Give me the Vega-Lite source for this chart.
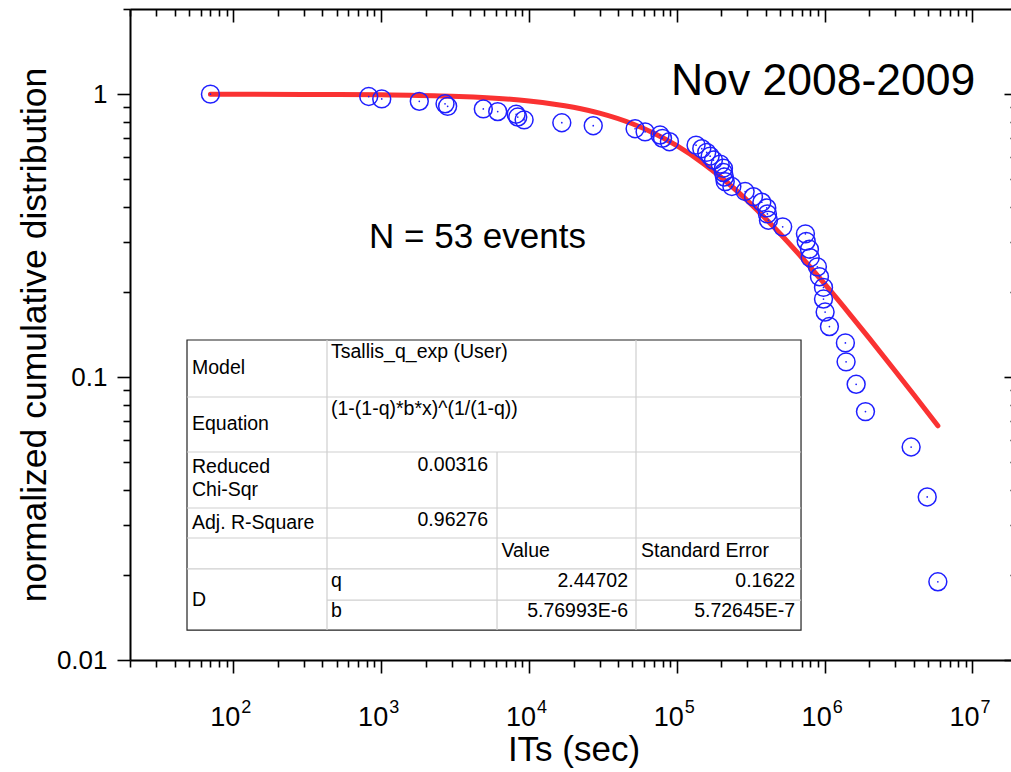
{
  "$schema": "https://vega.github.io/schema/vega-lite/v6.json",
  "width": 887,
  "height": 651,
  "autosize": {"type": "none"},
  "padding": {"left": 130, "top": 9, "right": -6, "bottom": 112},
  "background": "white",
  "config": {
    "view": {"stroke": null},
    "font": "Liberation Sans",
    "axis": {
      "grid": false,
      "domainColor": "black",
      "domainWidth": 2,
      "tickColor": "black",
      "tickWidth": 1.6,
      "labelColor": "black",
      "titleColor": "black",
      "labelFont": "Liberation Sans",
      "titleFont": "Liberation Sans",
      "titleFontWeight": "normal",
      "labelOverlap": false,
      "labelFlush": false,
      "labelBound": false
    }
  },
  "datasets": {
    "points": [
      {"x": 70, "y": 1.0}, {"x": 824, "y": 0.9811}, {"x": 1009, "y": 0.9623}, {"x": 1811, "y": 0.9434},
      {"x": 2704, "y": 0.9245}, {"x": 2816, "y": 0.9057}, {"x": 4909, "y": 0.8868}, {"x": 6143, "y": 0.8679},
      {"x": 8187, "y": 0.8491}, {"x": 8395, "y": 0.8302}, {"x": 9268, "y": 0.8113}, {"x": 16670, "y": 0.7925},
      {"x": 27200, "y": 0.7736}, {"x": 52200, "y": 0.7547}, {"x": 61000, "y": 0.7358}, {"x": 77000, "y": 0.717},
      {"x": 80000, "y": 0.6981}, {"x": 89100, "y": 0.6792}, {"x": 134900, "y": 0.6604}, {"x": 147500, "y": 0.6415},
      {"x": 159300, "y": 0.6226}, {"x": 168000, "y": 0.6038}, {"x": 177000, "y": 0.5849}, {"x": 196400, "y": 0.566},
      {"x": 206700, "y": 0.5472}, {"x": 206700, "y": 0.5283}, {"x": 210000, "y": 0.5094}, {"x": 212500, "y": 0.4906},
      {"x": 235600, "y": 0.4717}, {"x": 289700, "y": 0.4528}, {"x": 330000, "y": 0.434}, {"x": 375700, "y": 0.4151},
      {"x": 406000, "y": 0.3962}, {"x": 410000, "y": 0.3774}, {"x": 416600, "y": 0.3585}, {"x": 520000, "y": 0.3396},
      {"x": 741000, "y": 0.3208}, {"x": 750000, "y": 0.3019}, {"x": 789000, "y": 0.283}, {"x": 798000, "y": 0.2642},
      {"x": 893000, "y": 0.2453}, {"x": 922000, "y": 0.2264}, {"x": 982000, "y": 0.2075}, {"x": 982000, "y": 0.1887},
      {"x": 1007000, "y": 0.1698}, {"x": 1077000, "y": 0.1509}, {"x": 1381000, "y": 0.1321}, {"x": 1396000, "y": 0.1132},
      {"x": 1633000, "y": 0.0943}, {"x": 1888000, "y": 0.0755}, {"x": 3845000, "y": 0.0566}, {"x": 4940000, "y": 0.0377},
      {"x": 5830000, "y": 0.0189}
    ],
    "fit": [
      {"x": 70, "y": 0.9996}, {"x": 300, "y": 0.99827}, {"x": 1000, "y": 0.99427}, {"x": 3000, "y": 0.98305},
      {"x": 10000, "y": 0.94609}, {"x": 20000, "y": 0.89878}, {"x": 30000, "y": 0.85687}, {"x": 50000, "y": 0.78579},
      {"x": 70000, "y": 0.72758}, {"x": 100000, "y": 0.65738}, {"x": 150000, "y": 0.57054}, {"x": 200000, "y": 0.50731},
      {"x": 300000, "y": 0.42033}, {"x": 500000, "y": 0.32111}, {"x": 700000, "y": 0.2647}, {"x": 1000000, "y": 0.21336},
      {"x": 1500000, "y": 0.1653}, {"x": 2000000, "y": 0.13728}, {"x": 3000000, "y": 0.10511}, {"x": 4000000, "y": 0.08673},
      {"x": 5830000, "y": 0.06727}
    ],
    "xLabels": [
      {"x": 100, "y": 0.01, "base": "10", "exp": "2"},
      {"x": 1000, "y": 0.01, "base": "10", "exp": "3"},
      {"x": 10000, "y": 0.01, "base": "10", "exp": "4"},
      {"x": 100000, "y": 0.01, "base": "10", "exp": "5"},
      {"x": 1000000, "y": 0.01, "base": "10", "exp": "6"},
      {"x": 10000000, "y": 0.01, "base": "10", "exp": "7"}
    ],
    "tableBox": [{"x": 48.6, "x2": 692000, "y": 0.13521, "y2": 0.01276}],
    "tableLines": [
      {"x": 48.6, "x2": 692000, "y": 0.08502, "y2": 0.08502},
      {"x": 48.6, "x2": 692000, "y": 0.05434, "y2": 0.05434},
      {"x": 48.6, "x2": 692000, "y": 0.03445, "y2": 0.03445},
      {"x": 48.6, "x2": 692000, "y": 0.02699, "y2": 0.02699},
      {"x": 48.6, "x2": 692000, "y": 0.02098, "y2": 0.02098},
      {"x": 430.2, "x2": 692000, "y": 0.01629, "y2": 0.01629},
      {"x": 430.2, "x2": 430.2, "y": 0.13521, "y2": 0.01276},
      {"x": 6077, "x2": 6077, "y": 0.05434, "y2": 0.01276},
      {"x": 52950, "x2": 52950, "y": 0.13521, "y2": 0.01276}
    ],
    "tableLeft": [
      {"x": 52.5, "y": 0.1077, "t": "Model"},
      {"x": 457.9, "y": 0.1227, "t": "Tsallis_q_exp (User)"},
      {"x": 52.5, "y": 0.0683, "t": "Equation"},
      {"x": 457.9, "y": 0.0771, "t": "(1-(1-q)*b*x)^(1/(1-q))"},
      {"x": 52.5, "y": 0.0481, "t": "Reduced"},
      {"x": 52.5, "y": 0.0399, "t": "Chi-Sqr"},
      {"x": 52.5, "y": 0.0305, "t": "Adj. R-Square"},
      {"x": 6510, "y": 0.02428, "t": "Value"},
      {"x": 57250, "y": 0.02428, "t": "Standard Error"},
      {"x": 52.5, "y": 0.01629, "t": "D"},
      {"x": 457.9, "y": 0.019, "t": "q"},
      {"x": 457.9, "y": 0.0149, "t": "b"}
    ],
    "tableRight": [
      {"x": 5282, "y": 0.0489, "t": "0.00316"},
      {"x": 5282, "y": 0.03125, "t": "0.96276"},
      {"x": 46740, "y": 0.019, "t": "2.44702"},
      {"x": 630000, "y": 0.019, "t": "0.1622"},
      {"x": 46740, "y": 0.0149, "t": "5.76993E-6"},
      {"x": 630000, "y": 0.0149, "t": "5.72645E-7"}
    ],
    "bigTitle": [{"x": 91340, "y": 0.9932, "t": "Nov 2008-2009"}],
    "nText": [{"x": 827.7, "y": 0.286, "t": "N = 53 events"}]
  },
  "resolve": {"axis": {"x": "independent", "y": "independent"}},
  "layer": [
    {
      "data": {"name": "tableBox"},
      "mark": {"type": "rect", "fill": "white", "stroke": "#222222", "strokeWidth": 1.2},
      "encoding": {
        "x": {"field": "x", "type": "quantitative", "scale": {"type": "log", "domain": [20, 20000000], "nice": false}, "axis": null},
        "x2": {"field": "x2"},
        "y": {"field": "y", "type": "quantitative", "scale": {"type": "log", "domain": [0.01, 2], "nice": false}, "axis": null},
        "y2": {"field": "y2"}
      }
    },
    {
      "data": {"name": "tableLines"},
      "mark": {"type": "rule", "color": "#cfcfcf", "strokeWidth": 1.2},
      "encoding": {
        "x": {"field": "x", "type": "quantitative", "scale": {"type": "log", "domain": [20, 20000000], "nice": false}, "axis": null},
        "x2": {"field": "x2"},
        "y": {"field": "y", "type": "quantitative", "scale": {"type": "log", "domain": [0.01, 2], "nice": false}, "axis": null},
        "y2": {"field": "y2"}
      }
    },
    {
      "data": {"name": "tableLeft"},
      "mark": {"type": "text", "align": "left", "baseline": "middle", "fontSize": 19.5, "font": "Liberation Sans", "color": "black"},
      "encoding": {
        "x": {"field": "x", "type": "quantitative", "scale": {"type": "log", "domain": [20, 20000000], "nice": false}, "axis": null},
        "y": {"field": "y", "type": "quantitative", "scale": {"type": "log", "domain": [0.01, 2], "nice": false}, "axis": null},
        "text": {"field": "t"}
      }
    },
    {
      "data": {"name": "tableRight"},
      "mark": {"type": "text", "align": "right", "baseline": "middle", "fontSize": 19.5, "font": "Liberation Sans", "color": "black"},
      "encoding": {
        "x": {"field": "x", "type": "quantitative", "scale": {"type": "log", "domain": [20, 20000000], "nice": false}, "axis": null},
        "y": {"field": "y", "type": "quantitative", "scale": {"type": "log", "domain": [0.01, 2], "nice": false}, "axis": null},
        "text": {"field": "t"}
      }
    },
    {
      "data": {"name": "fit"},
      "mark": {"type": "line", "color": "#fa3232", "strokeWidth": 5, "strokeCap": "round", "interpolate": "monotone"},
      "encoding": {
        "x": {"field": "x", "type": "quantitative", "scale": {"type": "log", "domain": [20, 20000000], "nice": false},
          "axis": {
            "orient": "bottom",
            "values": [20,30,40,50,60,70,80,90,100,200,300,400,500,600,700,800,900,1000,2000,3000,4000,5000,6000,7000,8000,9000,10000,20000,30000,40000,50000,60000,70000,80000,90000,100000,200000,300000,400000,500000,600000,700000,800000,900000,1000000,2000000,3000000,4000000,5000000,6000000,7000000,8000000,9000000,10000000,20000000],
            "labels": false,
            "tickSize": {"condition": {"test": "datum.value == 100 || datum.value == 1000 || datum.value == 10000 || datum.value == 100000 || datum.value == 1000000 || datum.value == 10000000", "value": 13}, "value": 7},
            "title": "ITs (sec)",
            "titleFontSize": 35,
            "titlePadding": 59
          }
        },
        "y": {"field": "y", "type": "quantitative", "scale": {"type": "log", "domain": [0.01, 2], "nice": false},
          "axis": {
            "orient": "left",
            "values": [0.01,0.02,0.03,0.04,0.05,0.06,0.07,0.08,0.09,0.1,0.2,0.3,0.4,0.5,0.6,0.7,0.8,0.9,1,2],
            "labelExpr": "datum.value == 1 ? '1' : datum.value == 0.1 ? '0.1' : datum.value == 0.01 ? '0.01' : ''",
            "tickSize": {"condition": {"test": "datum.value == 1 || datum.value == 0.1 || datum.value == 0.01", "value": 13}, "value": 7},
            "labelFontSize": 26,
            "labelPadding": 10,
            "title": "normalized cumulative distribution",
            "titleFontSize": 35.5,
            "titlePadding": 4
          }
        }
      }
    },
    {
      "data": {"name": "points"},
      "mark": {"type": "point", "shape": "circle", "filled": false, "stroke": "#1f1fff", "strokeWidth": 1.5, "size": 320, "opacity": 1},
      "encoding": {
        "x": {"field": "x", "type": "quantitative", "scale": {"type": "log", "domain": [20, 20000000], "nice": false},
          "axis": {
            "orient": "top",
            "values": [20,30,40,50,60,70,80,90,100,200,300,400,500,600,700,800,900,1000,2000,3000,4000,5000,6000,7000,8000,9000,10000,20000,30000,40000,50000,60000,70000,80000,90000,100000,200000,300000,400000,500000,600000,700000,800000,900000,1000000,2000000,3000000,4000000,5000000,6000000,7000000,8000000,9000000,10000000,20000000],
            "labels": false,
            "tickSize": {"condition": {"test": "datum.value == 100 || datum.value == 1000 || datum.value == 10000 || datum.value == 100000 || datum.value == 1000000 || datum.value == 10000000", "value": -13}, "value": -7},
            "title": null
          }
        },
        "y": {"field": "y", "type": "quantitative", "scale": {"type": "log", "domain": [0.01, 2], "nice": false},
          "axis": {
            "orient": "right",
            "values": [0.01,0.02,0.03,0.04,0.05,0.06,0.07,0.08,0.09,0.1,0.2,0.3,0.4,0.5,0.6,0.7,0.8,0.9,1,2],
            "labels": false,
            "tickSize": {"condition": {"test": "datum.value == 1 || datum.value == 0.1 || datum.value == 0.01", "value": -13}, "value": -7},
            "title": null
          }
        }
      }
    },
    {
      "data": {"name": "points"},
      "mark": {"type": "point", "shape": "circle", "filled": true, "color": "#1f1fff", "size": 3, "opacity": 1},
      "encoding": {
        "x": {"field": "x", "type": "quantitative", "scale": {"type": "log", "domain": [20, 20000000], "nice": false}, "axis": null},
        "y": {"field": "y", "type": "quantitative", "scale": {"type": "log", "domain": [0.01, 2], "nice": false}, "axis": null}
      }
    },
    {
      "data": {"name": "xLabels"},
      "mark": {"type": "text", "align": "right", "baseline": "alphabetic", "dx": 7, "dy": 66, "fontSize": 27, "font": "Liberation Sans", "color": "black"},
      "encoding": {
        "x": {"field": "x", "type": "quantitative", "scale": {"type": "log", "domain": [20, 20000000], "nice": false}, "axis": null},
        "y": {"field": "y", "type": "quantitative", "scale": {"type": "log", "domain": [0.01, 2], "nice": false}, "axis": null},
        "text": {"field": "base"}
      }
    },
    {
      "data": {"name": "xLabels"},
      "mark": {"type": "text", "align": "left", "baseline": "alphabetic", "dx": 8, "dy": 53, "fontSize": 18, "font": "Liberation Sans", "color": "black"},
      "encoding": {
        "x": {"field": "x", "type": "quantitative", "scale": {"type": "log", "domain": [20, 20000000], "nice": false}, "axis": null},
        "y": {"field": "y", "type": "quantitative", "scale": {"type": "log", "domain": [0.01, 2], "nice": false}, "axis": null},
        "text": {"field": "exp"}
      }
    },
    {
      "data": {"name": "bigTitle"},
      "mark": {"type": "text", "align": "left", "baseline": "alphabetic", "fontSize": 44.5, "font": "Liberation Sans", "color": "black"},
      "encoding": {
        "x": {"field": "x", "type": "quantitative", "scale": {"type": "log", "domain": [20, 20000000], "nice": false}, "axis": null},
        "y": {"field": "y", "type": "quantitative", "scale": {"type": "log", "domain": [0.01, 2], "nice": false}, "axis": null},
        "text": {"field": "t"}
      }
    },
    {
      "data": {"name": "nText"},
      "mark": {"type": "text", "align": "left", "baseline": "alphabetic", "fontSize": 35, "font": "Liberation Sans", "color": "black"},
      "encoding": {
        "x": {"field": "x", "type": "quantitative", "scale": {"type": "log", "domain": [20, 20000000], "nice": false}, "axis": null},
        "y": {"field": "y", "type": "quantitative", "scale": {"type": "log", "domain": [0.01, 2], "nice": false}, "axis": null},
        "text": {"field": "t"}
      }
    }
  ]
}
